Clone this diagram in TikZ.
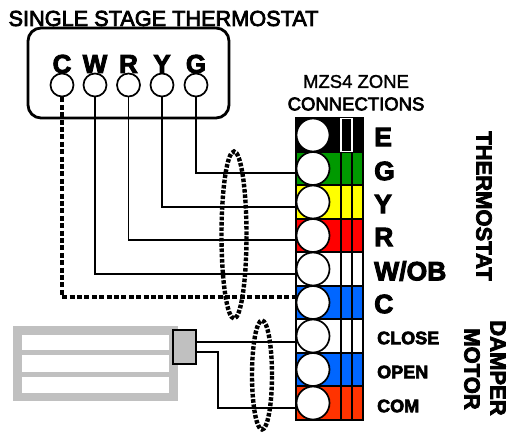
\documentclass[tikz,border=0pt]{standalone}
\usepackage{fontspec}
\setmainfont{Liberation Sans}
\newfontfamily\lightb[FakeBold=1.5]{Liberation Sans}
\newfontfamily\semib[FakeBold=3.5]{Liberation Sans}
\newfontfamily\heavy[FakeBold=3.5]{Liberation Sans Bold}
\usetikzlibrary{calc,shapes.geometric}
\definecolor{cgreen}{RGB}{0,153,0}
\definecolor{cyellow}{RGB}{255,255,0}
\definecolor{cred}{RGB}{255,0,0}
\definecolor{cblue}{RGB}{0,102,255}
\definecolor{corange}{RGB}{255,51,0}
\definecolor{cgray}{RGB}{192,192,192}
\tikzset{
 x=1pt,y=-1pt,
 wire/.style={draw=black,line width=1.6pt},
 dashwire/.style={draw=black,line width=3.2pt,dash pattern=on 5pt off 2.4pt},
 loopring/.style={draw=black,line width=4.4pt,dash pattern=on 3.6pt off 1.7pt,ellipse,inner sep=0pt},
 tcircle/.style={circle,draw=black,line width=1.7pt,fill=white,minimum size=23pt,inner sep=0pt},
 scircle/.style={circle,draw=black,line width=1.7pt,fill=white,minimum size=33pt,inner sep=0pt},
 rowbox/.style={rectangle,draw=black,line width=1.7pt,minimum width=67pt,minimum height=33.5pt,inner sep=0pt},
 tlabel/.style={font=\heavy\fontsize{26}{26}\selectfont,inner sep=0pt},
 rlabel/.style={font=\heavy\fontsize{26.5}{26}\selectfont,inner sep=0pt,anchor=west},
 slabel/.style={font=\heavy\fontsize{18}{18}\selectfont,inner sep=0pt,anchor=west},
 vlabel/.style={font=\heavy\fontsize{22}{22}\selectfont,inner sep=0pt,rotate=-90},
}
\begin{document}
\begin{tikzpicture}
\useasboundingbox (0,0) rectangle (510,436);
% title
\node[inner sep=0pt,font=\semib\fontsize{21.7}{20}\selectfont] (title) at (163.5,18.5) {SINGLE STAGE THERMOSTAT};
% thermostat
\node[rectangle,rounded corners=13pt,draw=black,line width=2.8pt,minimum width=201pt,minimum height=90pt,inner sep=0pt] (stat) at (128.5,73) {};
\foreach \n/\x in {C/62,W/95,R/128.5,Y/162,G/196}{
  \node[tlabel] (l\n) at (\x,64) {\n};
}
\foreach \n/\x in {C/62,W/95,R/128.5,Y/162,G/196}{
  \node[tcircle] (t\n) at (\x,85) {};
}
% strip header
\node[inner sep=0pt,font=\lightb\fontsize{18.5}{18}\selectfont] (h1) at (356,81.5) {MZS4 ZONE};
\node[inner sep=0pt,font=\semib\fontsize{18.5}{18}\selectfont] (h2) at (356,104) {CONNECTIONS};
% rows
\foreach \n/\c/\y in {E/black/135,G/cgreen/168.5,Y/cyellow/202,R/cred/235.5,W/white/269,C/cblue/302.5,CL/white/336,OP/cblue/369.5,CO/corange/403}{
  \node[rowbox,fill=\c] (r\n) at (329.5,\y) {};
  \draw[line width=1.4pt] (341,\y-16.75) -- (341,\y+16.75) (352,\y-16.75) -- (352,\y+16.75);
}
\node[rectangle,draw=white,line width=1.2pt,fill=black,minimum width=11pt,minimum height=33pt,inner sep=0pt] (fuse) at (346.5,135) {};
% wire ends
\coordinate (wG) at (296,173);
\coordinate (wY) at (296,207);
\coordinate (wR) at (296,240);
\coordinate (wW) at (296,274);
\coordinate (wC) at (296,297);
\coordinate (wCL) at (296,342);
\coordinate (wCO) at (296,408);
\coordinate (aT) at (196,342);
\coordinate (aB) at (196,352);
\coordinate (aK) at (218,352);
% damper
\node[rectangle,fill=cgray,minimum width=165pt,minimum height=75pt,inner sep=0pt] (damper) at (95.5,363.5) {};
\node[rectangle,fill=white,minimum width=147pt,minimum height=15pt,inner sep=0pt] (s1) at (95.5,342.5) {};
\node[rectangle,fill=white,minimum width=147pt,minimum height=17pt,inner sep=0pt] (s2) at (95.5,363.5) {};
\node[rectangle,fill=white,minimum width=147pt,minimum height=16pt,inner sep=0pt] (s3) at (95.5,385) {};
\node[rectangle,draw=black,line width=1.7pt,fill=cgray,minimum width=23pt,minimum height=34pt,inner sep=0pt] (act) at (184.5,347) {};
% wires
\draw[wire] (tG.south) |- (wG);
\draw[wire] (tY.south) |- (wY);
\draw[wire] (tR.south) |- (wR);
\draw[wire] (tW.south) |- (wW);
\draw[dashwire] (tC.south) |- (wC);
\draw[wire] (aT) -- (wCL);
\draw[wire] (aB) -- (aK) |- (wCO);
% terminal circles
\foreach \n/\y in {E/135,G/168.5,Y/202,R/235.5,W/269,C/302.5,CL/336,OP/369.5,CO/403}{
  \node[scircle] (c\n) at (313,\y) {};
}
% labels
\node[rlabel] (lE) at (374,137) {E};
\node[rlabel] (lGG) at (374,171) {G};
\node[rlabel] (lYY) at (374,204) {Y};
\node[rlabel] (lRR) at (374,237) {R};
\node[rlabel] (lWW) at (374,271) {W/OB};
\node[rlabel] (lCC) at (374,304) {C};
\node[slabel] (lCL) at (377,338) {CLOSE};
\node[slabel] (lOP) at (377,372) {OPEN};
\node[slabel] (lCO) at (377,406) {COM};
\node[vlabel] (vT) at (484,206) {THERMOSTAT};
\node[vlabel] (vD) at (498,368) {DAMPER};
\node[vlabel] (vM) at (472,369) {MOTOR};
% loops
\node[loopring,minimum width=25pt,minimum height=167pt] (ring1) at (234,235) {};
\node[loopring,minimum width=20pt,minimum height=109pt] (ring2) at (262,375) {};
\end{tikzpicture}
\end{document}
